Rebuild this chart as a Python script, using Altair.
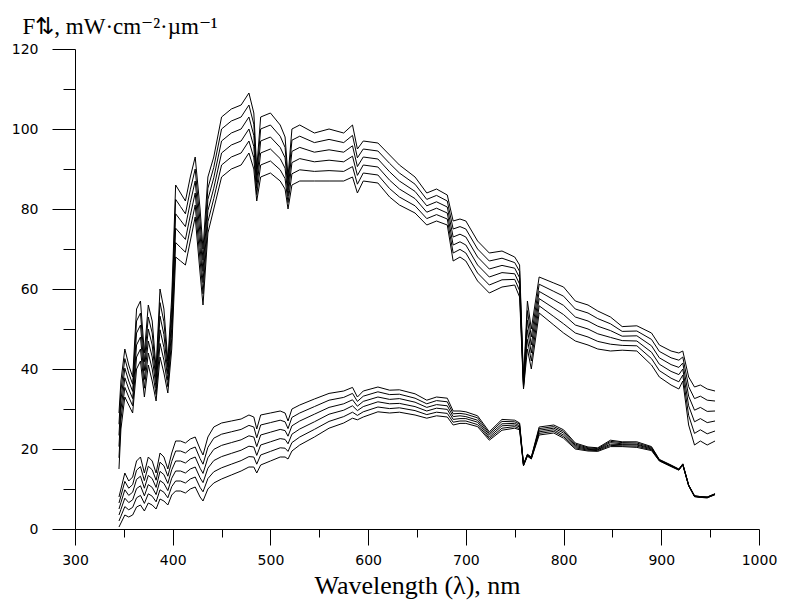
import altair as alt
import pandas as pd

# Wavelength grid (nm)
wl = [345, 347, 351, 355, 359, 363, 367, 371, 375, 379, 383, 387, 391, 395, 399,
      403, 408, 413, 418, 423, 428, 431, 436, 442, 450, 460, 470, 478, 483, 486,
      490, 500, 510, 515, 518, 522, 530, 545, 560, 575, 584, 589, 595, 610, 622,
      632, 648, 660, 670, 681, 687, 694, 700, 712, 724, 737, 750, 755, 759, 763,
      767, 775, 790, 800, 812, 825, 835, 848, 860, 875, 890, 898, 910, 918, 922,
      928, 934, 940, 947, 955]

# Downward fluxes (upper bundle), top to bottom
U1 = [29, 37, 45, 41, 38, 55, 57, 44, 56, 52, 40, 60, 55, 42, 58, 86, 84, 82, 88, 93, 80, 70, 88, 93, 103, 105, 106, 109, 104, 90, 103, 104, 101, 98, 88, 100, 101, 99, 100, 99, 101, 95, 97, 96.5, 93.5, 91, 88, 84, 85, 83.5, 77, 77.5, 77, 72, 69, 69.5, 68, 66, 37, 57, 50, 63, 61.5, 60.5, 57, 56, 54.5, 53, 50.6, 50.8, 49, 46, 44.5, 44, 44.5, 38, 35.5, 36, 35, 34.5]
U2 = [26.2, 34.6, 42.6, 39, 36.2, 52, 54, 41.8, 53, 49, 38.4, 56.6, 51.8, 40.4, 55.4, 82.4, 80.6, 78.8, 84.8, 90, 76.8, 67.2, 85.2, 90.4, 100, 102, 103, 106, 101.2, 88.4, 100, 101, 98.2, 95.4, 86.4, 97.2, 98.2, 96.6, 97.4, 96.6, 98.4, 92.8, 95, 94.5, 91.4, 89, 86.2, 82.4, 83.4, 82, 75, 75.6, 75, 70, 67, 67.7, 66.6, 64.4, 36.6, 54.6, 48, 61.2, 59.4, 58.2, 55, 54, 52.6, 51.3, 49.4, 49.5, 47.4, 44.4, 42.8, 42.2, 43, 35.6, 32.6, 33.2, 32.2, 32]
U3 = [23.4, 32.2, 40.2, 37, 34.4, 49, 51, 39.6, 50, 46, 36.8, 53.2, 48.6, 38.8, 52.8, 78.8, 77.2, 75.6, 81.6, 87, 73.6, 64.4, 82.4, 87.8, 97, 99, 100, 103, 98.4, 86.8, 97, 98, 95.4, 92.8, 84.8, 94.4, 95.4, 94.2, 94.8, 94.2, 95.8, 90.6, 93, 92.5, 89.3, 87, 84.4, 80.8, 81.8, 80.5, 73, 73.7, 73, 68, 65, 65.9, 65.2, 62.8, 36.2, 52.2, 46, 59.4, 57.3, 55.9, 53, 52, 50.7, 49.6, 48.2, 48.3, 45.8, 42.8, 41.1, 40.4, 41.5, 33.2, 29.7, 30.4, 29.4, 29.5]
U4 = [20.6, 29.8, 37.8, 35, 32.6, 46, 48, 37.4, 47, 43, 35.2, 49.8, 45.4, 37.2, 50.2, 75.2, 73.8, 72.4, 78.4, 84, 70.4, 61.6, 79.6, 85.2, 94, 96, 97, 100, 95.6, 85.2, 94, 95, 92.6, 90.2, 83.2, 91.6, 92.6, 91.8, 92.2, 91.8, 93.2, 88.4, 91, 90.5, 87.2, 85, 82.6, 79.2, 80.2, 79, 71, 71.8, 71, 66, 63, 64.1, 63.8, 61.2, 35.8, 49.8, 44, 57.6, 55.2, 53.6, 51, 50, 48.8, 47.9, 47.1, 47, 44.2, 41.2, 39.4, 38.6, 40, 30.8, 26.8, 27.6, 26.6, 27]
U5 = [17.8, 27.4, 35.4, 33, 30.8, 43, 45, 35.2, 44, 40, 33.6, 46.4, 42.2, 35.6, 47.6, 71.6, 70.4, 69.2, 75.2, 81, 67.2, 58.8, 76.8, 82.6, 91, 93, 94, 97, 92.8, 83.6, 91, 92, 89.8, 87.6, 81.6, 88.8, 89.8, 89.4, 89.6, 89.4, 90.6, 86.2, 89, 88.5, 85.1, 83, 80.8, 77.6, 78.6, 77.5, 69, 69.9, 69, 64, 61, 62.3, 62.4, 59.6, 35.4, 47.4, 42, 55.8, 53.1, 51.3, 49, 48, 46.9, 46.2, 45.9, 45.8, 42.6, 39.6, 37.7, 36.8, 38.5, 28.4, 23.9, 24.8, 23.8, 24.5]
U6 = [15, 25, 33, 31, 29, 40, 42, 33, 41, 37, 32, 43, 39, 34, 45, 68, 67, 66, 72, 78, 64, 56, 74, 80, 88, 90, 91, 94, 90, 82, 88, 89, 87, 85, 80, 86, 87, 87, 87, 87, 88, 84, 87, 86.5, 83, 81, 79, 76, 77, 76, 67, 68, 67, 62, 59, 60.5, 61, 58, 35, 45, 40, 54, 51, 49, 47, 46, 45, 44.5, 44.7, 44.5, 41, 38, 36, 35, 37, 26, 21, 22, 21, 22]

# Upward fluxes (lower bundle), top to bottom
L1 = [8, 10, 14, 12, 13, 17, 18, 14, 18, 17, 14, 19, 18, 15, 19, 22, 22, 21.5, 22.5, 23, 20, 18.5, 23, 25.5, 26.5, 27, 27.5, 28.5, 28, 25, 28.5, 29, 29.5, 29, 27, 30, 31, 32.5, 33.9, 34.5, 35.4, 33, 34.5, 35.5, 34.7, 34.8, 33.8, 32.2, 33, 32.7, 29.5, 29.5, 29.3, 28.3, 24.3, 27.4, 27.2, 26.5, 16.2, 18.7, 18, 25.5, 26, 24.8, 21.5, 20.5, 20.3, 22.2, 21.8, 21.8, 20.6, 17.4, 16, 15, 16.3, 11, 8.3, 8.1, 8, 8.8]
L2 = [6.5, 8.3, 11.9, 10.2, 11.1, 14.7, 15.6, 12.1, 15.7, 14.8, 12.2, 16.7, 15.8, 13.2, 16.9, 19.5, 19.5, 19, 20, 20.5, 17.6, 16.2, 20.4, 22.7, 23.7, 24.3, 24.9, 25.9, 25.5, 22.8, 26, 26.6, 27.2, 26.8, 25.1, 27.9, 29, 30.6, 32.2, 32.9, 33.9, 31.9, 33.2, 34.3, 33.6, 33.7, 32.7, 31.3, 32.1, 31.8, 28.8, 28.9, 28.7, 27.8, 23.9, 26.9, 26.8, 26.2, 16.1, 18.6, 17.9, 25.1, 25.6, 24.4, 21.2, 20.3, 20.1, 21.9, 21.6, 21.5, 20.4, 17.3, 15.9, 14.9, 16.2, 11, 8.3, 8.1, 8, 8.8]
L3 = [5, 6.6, 9.8, 8.4, 9.2, 12.4, 13.2, 10.2, 13.4, 12.6, 10.4, 14.4, 13.6, 11.4, 14.8, 17, 17, 16.5, 17.5, 18, 15.2, 13.9, 17.8, 19.9, 20.9, 21.6, 22.3, 23.3, 23, 20.6, 23.5, 24.2, 24.9, 24.6, 23.2, 25.8, 27, 28.7, 30.4, 31.3, 32.3, 30.7, 31.9, 33, 32.4, 32.6, 31.7, 30.4, 31.1, 30.8, 28.1, 28.3, 28.1, 27.2, 23.5, 26.3, 26.4, 25.8, 16, 18.5, 17.8, 24.7, 25.2, 24, 20.9, 20.1, 19.9, 21.6, 21.3, 21.2, 20.2, 17.2, 15.8, 14.9, 16.2, 10.9, 8.2, 8, 7.9, 8.7]
L4 = [3.5, 4.9, 7.7, 6.6, 7.3, 10.1, 10.8, 8.3, 11.1, 10.4, 8.6, 12.1, 11.4, 9.6, 12.7, 14.5, 14.5, 14, 15, 15.5, 12.8, 11.6, 15.2, 17.1, 18.1, 18.9, 19.7, 20.7, 20.5, 18.4, 21, 21.8, 22.6, 22.4, 21.3, 23.7, 25, 26.8, 28.7, 29.7, 30.8, 29.6, 30.6, 31.8, 31.3, 31.4, 30.6, 29.5, 30.2, 29.9, 27.4, 27.6, 27.6, 26.7, 23, 25.8, 26, 25.5, 16, 18.4, 17.7, 24.3, 24.8, 23.5, 20.6, 19.9, 19.8, 21.2, 21.1, 21, 20, 17.2, 15.8, 14.8, 16.1, 10.9, 8.2, 8, 7.9, 8.7]
L5 = [2, 3.2, 5.6, 4.8, 5.4, 7.8, 8.4, 6.4, 8.8, 8.2, 6.8, 9.8, 9.2, 7.8, 10.6, 12, 12, 11.5, 12.5, 13, 10.4, 9.3, 12.6, 14.3, 15.3, 16.2, 17.1, 18.1, 18, 16.2, 18.5, 19.4, 20.3, 20.2, 19.4, 21.6, 23, 24.9, 26.9, 28.1, 29.2, 28.4, 29.3, 30.5, 30.1, 30.3, 29.6, 28.6, 29.2, 28.9, 26.7, 27, 27, 26.1, 22.6, 25.2, 25.6, 25.1, 15.9, 18.3, 17.6, 23.9, 24.4, 23.1, 20.3, 19.7, 19.6, 20.9, 20.8, 20.7, 19.8, 17.1, 15.7, 14.8, 16.1, 10.8, 8.1, 7.9, 7.8, 8.6]
L6 = [0.5, 1.5, 3.5, 3, 3.5, 5.5, 6, 4.5, 6.5, 6, 5, 7.5, 7, 6, 8.5, 9.5, 9.5, 9, 10, 10.5, 8, 7, 10, 11.5, 12.5, 13.5, 14.5, 15.5, 15.5, 14, 16, 17, 18, 18, 17.5, 19.5, 21, 23, 25.2, 26.5, 27.7, 27.3, 28, 29.3, 29, 29.2, 28.5, 27.7, 28.3, 28, 26, 26.4, 26.4, 25.6, 22.2, 24.7, 25.2, 24.8, 15.8, 18.2, 17.5, 23.5, 24, 22.7, 20, 19.5, 19.4, 20.6, 20.6, 20.4, 19.6, 17, 15.6, 14.7, 16, 10.8, 8.1, 7.9, 7.8, 8.6]

x_ticks = [300, 350, 400, 450, 500, 550, 600, 650, 700, 750, 800, 850, 900, 950, 1000]
y_ticks = [0, 10, 20, 30, 40, 50, 60, 70, 80, 90, 100, 110, 120]

curves = {"down1": U1, "down2": U2, "down3": U3, "down4": U4, "down5": U5, "down6": U6,
          "up1": L1, "up2": L2, "up3": L3, "up4": L4, "up5": L5, "up6": L6}

rows = []
for name, vals in curves.items():
    assert len(vals) == len(wl), (name, len(vals))
    for w, v in zip(wl, vals):
        rows.append({"wl": w, "F": v, "curve": name})
df = pd.DataFrame(rows)

x_axis = alt.Axis(
    values=x_ticks, format="d",
    labelExpr="datum.value % 100 === 0 ? datum.label : ''",
    tickSize={"condition": {"test": "datum.value % 100 === 0", "value": 16}, "value": 8},
    labelOverlap=False, labelFlush=False, labelBound=False,
    labelFont="DejaVu Sans", labelFontSize=14, labelColor="black", labelPadding=8,
    domainColor="black", tickColor="black", domainWidth=1, tickWidth=1,
    grid=False,
    title="Wavelength (λ), nm", titleFont="Liberation Serif", titleFontSize=26,
    titleFontWeight="normal", titleColor="black", titleBaseline="alphabetic", titleY=64,
)

y_axis = alt.Axis(
    values=y_ticks, format="d",
    labelExpr="datum.value % 20 === 0 ? datum.label : ''",
    tickSize={"condition": {"test": "datum.value % 20 === 0", "value": 23}, "value": 12},
    labelOverlap=False, labelFlush=False, labelBound=False,
    labelFont="DejaVu Sans", labelFontSize=14, labelColor="black", labelPadding=14,
    domainColor="black", tickColor="black", domainWidth=1, tickWidth=1,
    grid=False,
    title="F⇅, mW·cm⁻²·µm⁻¹", titleFont="Liberation Serif", titleFontSize=23,
    titleFontWeight="normal", titleColor="black", titleAngle=0, titleAlign="left",
    titleBaseline="alphabetic", titleX=-53, titleY=-16,
)

chart = alt.Chart(df).mark_line(color="black", strokeWidth=1).encode(
    x=alt.X("wl:Q", scale=alt.Scale(domain=[300, 1000], nice=False, zero=False), axis=x_axis),
    y=alt.Y("F:Q", scale=alt.Scale(domain=[0, 120], nice=False), axis=y_axis),
    detail="curve:N",
).properties(
    width=684, height=480,
    autosize=alt.AutoSizeParams(type="none"),
    padding={"left": 75, "top": 49, "right": 32, "bottom": 74},
    background="white",
).configure_view(stroke=None)

chart.save("out.html", embed_options={"renderer": "svg", "actions": False})
